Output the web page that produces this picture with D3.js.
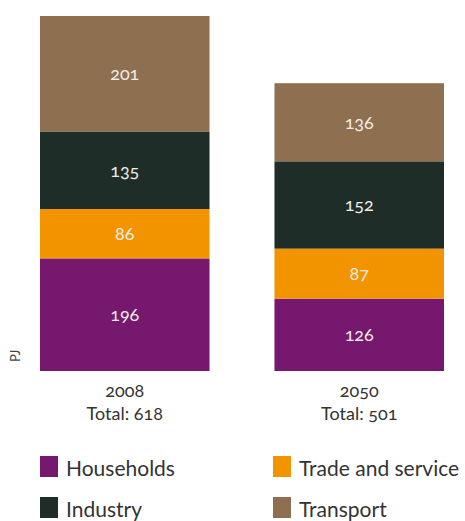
<!DOCTYPE html>
<html>
<head>
<meta charset="utf-8">
<script src="https://cdn.jsdelivr.net/npm/d3@7"></script>
<style>
	body { margin: 0; background: #fff; }
	svg { font-family: Lato, "Open Sans", sans-serif; font-variant-numeric: oldstyle-nums; }
</style>
</head>
<body>
<script>
const years = ['2008', '2050'];
const sectors = ['Households', 'Trade and service', 'Industry', 'Transport'];
const households = [196, 126];
const tradeService = [86, 87];
const industry = [135, 152];
const transport = [201, 136];
const totals = [618, 501];
const colors = ['#75186e', '#f29400', '#1e2d28', '#8e7050'];

const svgSize = {width: 465, height: 521};

const rows = years.map((y, i) => ({
	year: y,
	'Households': households[i],
	'Trade and service': tradeService[i],
	'Industry': industry[i],
	'Transport': transport[i]
}));
const stacked = d3.stack().keys(sectors)(rows);

var svg = d3.select('body').append('svg')
	.attr('width', svgSize.width)
	.attr('height', svgSize.height);

var x = d3.scaleBand().domain(years).range([40, 444]).paddingInner(0.277).paddingOuter(0);
var y = d3.scaleLinear().domain([0, 618]).range([371, 16]);
var color = d3.scaleOrdinal().domain(sectors).range(colors);

var layers = svg.append('g').selectAll('g')
	.data(stacked)
	.enter()
	.append('g')
	.attr('fill', (d) => color(d.key));

layers.selectAll('rect')
	.data((d) => d)
	.enter()
	.append('rect')
	.attr('x', (d) => x(d.data.year))
	.attr('width', x.bandwidth())
	.attr('y', (d) => y(d[1]))
	.attr('height', (d) => y(d[0]) - y(d[1]));

layers.selectAll('text')
	.data((d) => d)
	.enter()
	.append('text')
	.attr('x', (d) => x(d.data.year) + x.bandwidth() / 2)
	.attr('y', (d) => (y(d[0]) + y(d[1])) / 2)
	.attr('dy', '0.35em')
	.attr('text-anchor', 'middle')
	.attr('fill', '#f2ece6')
	.style('font-size', '18px')
	.text((d) => d[1] - d[0]);

// year + total under each bar
var labels = svg.append('g').selectAll('g')
	.data(years)
	.enter()
	.append('g')
	.attr('transform', (d) => `translate(${x(d) + x.bandwidth() / 2}, 0)`)
	.attr('text-anchor', 'middle')
	.attr('fill', '#333')
	.style('font-size', '18px');

labels.append('text').attr('y', 397).text((d) => d);
labels.append('text').attr('y', 420).text((d, i) => 'Total: ' + totals[i]);

svg.append('text')
	.attr('transform', 'rotate(-90)')
	.attr('x', -356)
	.attr('y', 20)
	.attr('text-anchor', 'middle')
	.attr('fill', '#444')
	.style('font-size', '13px')
	.text('PJ');

// legend: two columns
var legendPos = [[40, 456], [273, 456], [40, 497], [273, 497]];
var legendOrder = ['Households', 'Trade and service', 'Industry', 'Transport'];

var legend = svg.append('g').selectAll('g')
	.data(legendOrder)
	.enter()
	.append('g')
	.attr('transform', (d, i) => `translate(${legendPos[i]})`);

legend.append('rect')
	.attr('width', 18)
	.attr('height', 21)
	.attr('fill', (d) => color(d));

legend.append('text')
	.attr('x', 26)
	.attr('y', 20)
	.attr('fill', '#333')
	.style('font-size', '21px')
	.text((d) => d);
</script>
</body>
</html>
